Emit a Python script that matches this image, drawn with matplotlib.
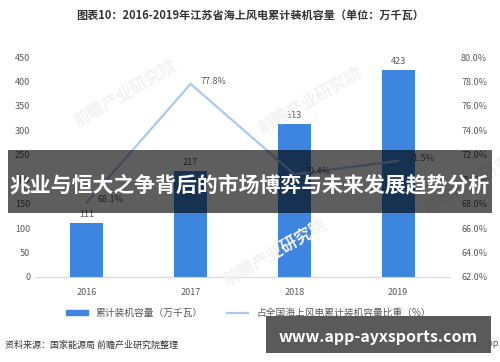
import matplotlib
matplotlib.use("Agg")
import matplotlib.pyplot as plt
from matplotlib.patches import Rectangle
from matplotlib.lines import Line2D
from matplotlib.patches import Patch

plt.rcParams['font.family'] = ['Noto Sans CJK SC', 'DejaVu Sans']

years = ['2016', '2017', '2018', '2019']
capacity = [111, 217, 313, 423]          # 万千瓦
share = [68.1, 77.8, 70.4, 71.5]         # %

left_ticks = [0, 50, 100, 150, 200, 250, 300, 350, 400, 450]
right_ticks = [62, 64, 66, 68, 70, 72, 74, 76, 78, 80]

bar_color = '#3d85de'
line_color = '#a9c9f2'
text_gray = '#595959'

fig = plt.figure(figsize=(5, 3.62), dpi=100)
fig.patch.set_facecolor('white')

ax = fig.add_axes([0.07, 0.235, 0.83, 0.6075])
x = range(len(years))
ax.bar(x, capacity, width=0.32, color=bar_color, zorder=2)
for xi, v in zip(x, capacity):
    ax.text(xi, v + 8, str(v), ha='center', va='bottom', fontsize=6.5, color=text_gray)

ax.set_xlim(-0.5, 3.5)
ax.set_ylim(0, 450)
ax.set_yticks(left_ticks)
ax.set_xticks(list(x))
ax.set_xticklabels(years)
ax.tick_params(axis='both', length=0, labelsize=6.5, colors=text_gray)
ax.tick_params(axis='x', pad=8)
for s in ['top', 'right', 'left']:
    ax.spines[s].set_visible(False)
ax.spines['bottom'].set_color('#d9d9d9')

ax2 = ax.twinx()
ax2.plot(list(x), share, color=line_color, lw=1.6, zorder=3)
for xi, v in zip(x, share):
    ax2.text(xi + 0.1, v + 0.2, f'{v}%', ha='left', va='center', fontsize=6.5, color=text_gray)
ax2.set_ylim(62, 80)
ax2.set_yticks(right_ticks)
ax2.set_yticklabels([f'{t:.1f}%' for t in right_ticks])
ax2.tick_params(axis='y', length=0, labelsize=6.5, colors=text_gray, pad=8)
for s in ['top', 'right', 'left', 'bottom']:
    ax2.spines[s].set_visible(False)

# faint watermark
for wx, wy in [(0.25, 0.74), (0.62, 0.72), (0.55, 0.30), (0.95, 0.5)]:
    fig.text(wx, wy, '前瞻产业研究院', fontsize=12, color='#f2f2f2', rotation=30,
             ha='center', va='center', fontweight='bold', zorder=0.5)

fig.text(0.5, 0.958, '图表10：2016-2019年江苏省海上风电累计装机容量（单位：万千瓦）',
         ha='center', va='center', fontsize=8, fontweight='bold', color='#333333')

handles = [Patch(color=bar_color), Line2D([0], [0], color=line_color, lw=1.6)]
labels = ['累计装机容量（万千瓦）', '占全国海上风电累计装机容量比重（%）']
fig.legend(handles, labels, loc='center', bbox_to_anchor=(0.497, 0.135), ncol=2,
           frameon=False, fontsize=7, handlelength=2.2, handleheight=0.5,
           columnspacing=2.5, labelcolor=text_gray)

fig.text(0.01, 0.047, '资料来源：国家能源局 前瞻产业研究院整理', ha='left', va='center',
         fontsize=6.5, color='#333333')
fig.text(0.998, 0.047, '@前瞻经济学人APP', ha='right', va='center', fontsize=6.5,
         color='#555555')

# overlay banners
fig.add_artist(Rectangle((0.016, 0.4116), 0.968, 0.174, transform=fig.transFigure,
                         facecolor='black', alpha=0.63, edgecolor='none', zorder=5))
fig.text(0.5, 0.489, '兆业与恒大之争背后的市场博弈与未来发展趋势分析', ha='center', va='center',
         fontsize=15, fontweight='bold', color='white', zorder=6)

fig.add_artist(Rectangle((0.532, 0.0249), 0.45, 0.102, transform=fig.transFigure,
                         facecolor='#555555', alpha=0.97, edgecolor='none', zorder=5))
fig.text(0.757, 0.069, 'www.app-ayxsports.com', ha='center', va='center',
         fontsize=11.5, fontweight='bold', color='white', zorder=6)

fig.savefig('out.png', dpi=100)
